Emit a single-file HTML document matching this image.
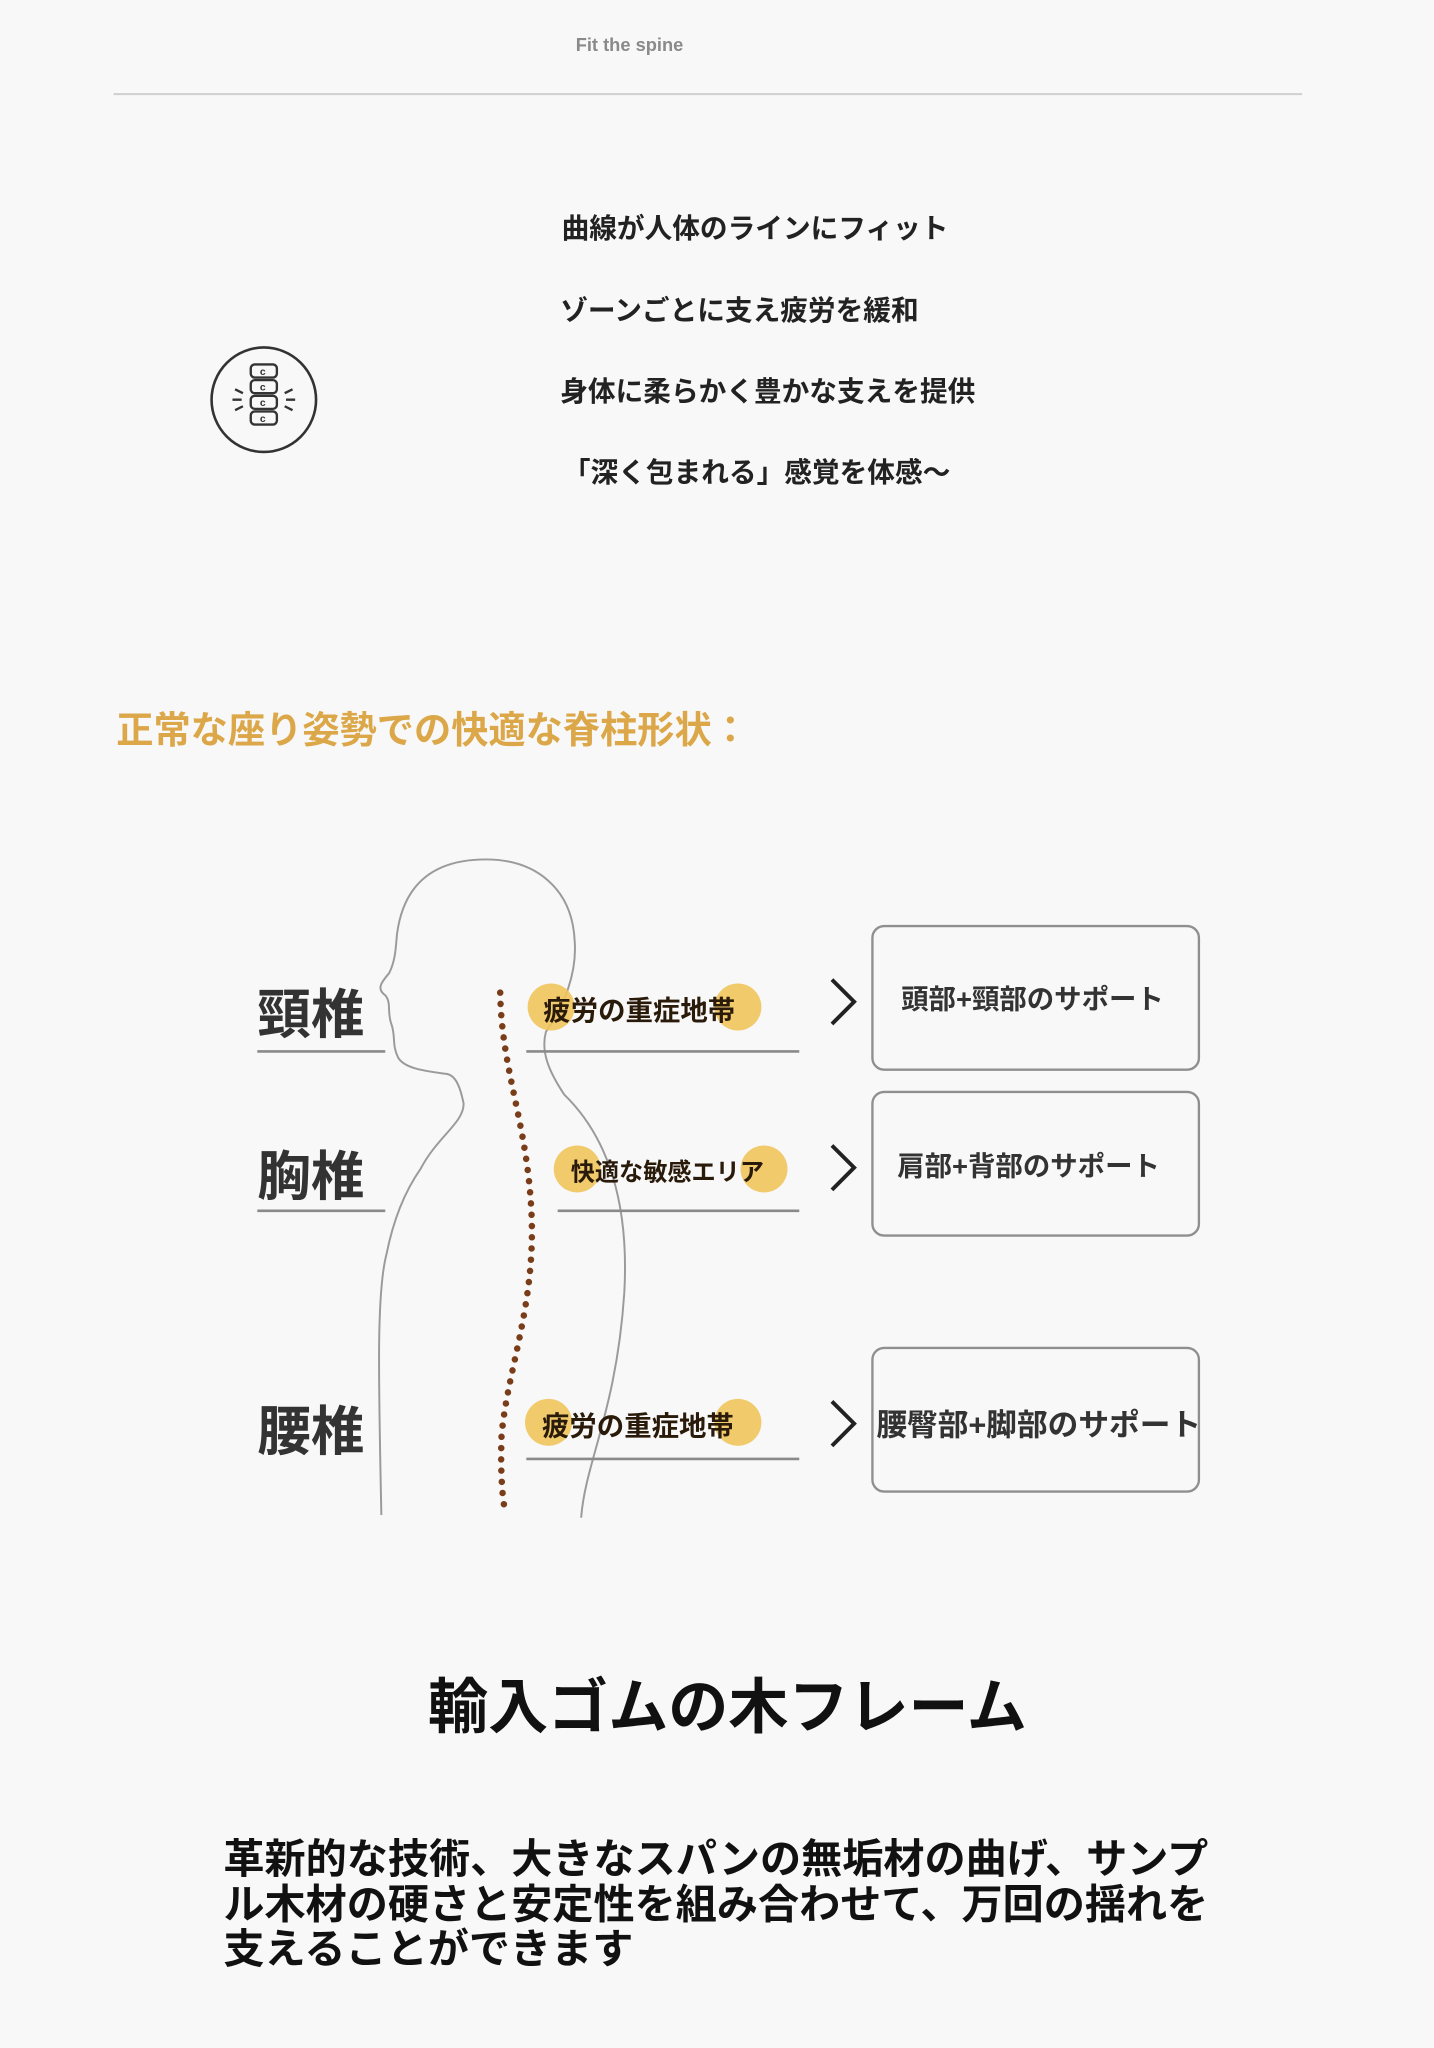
<!DOCTYPE html>
<html><head><meta charset="utf-8"><style>
html,body{margin:0;padding:0;background:#f8f8f8;}
svg{display:block;}
text{font-family:"Liberation Sans","Noto Sans CJK JP",sans-serif;font-weight:bold;}
</style></head><body>
<svg width="1434" height="2048" viewBox="0 0 1098 1568" xmlns="http://www.w3.org/2000/svg">
<rect width="1098" height="1568" fill="#f8f8f8"/>
<text x="482" y="39" font-size="14" fill="#8a8a8a" text-anchor="middle" font-weight="normal">Fit the spine</text>
<line x1="87" y1="72" x2="997" y2="72" stroke="#cfcfcf" stroke-width="1.5"/>

<circle cx="202" cy="306" r="40" fill="none" stroke="#333" stroke-width="2"/>
<g fill="none" stroke="#333" stroke-width="1.8">
<rect x="192" y="279" width="20" height="10" rx="3"/>
<rect x="192" y="291" width="20" height="10" rx="3"/>
<rect x="192" y="303" width="20" height="10" rx="3"/>
<rect x="192" y="315" width="20" height="10" rx="3"/>
<path d="M180 298 l6 3 M178 306 h7 M180 314 l6 -3 M224 298 l-6 3 M226 306 h-7 M224 314 l-6 -3"/>
</g>
<g font-size="8" fill="#333"><text x="199" y="287">c</text><text x="199" y="299">c</text><text x="199" y="311">c</text><text x="199" y="323">c</text></g>

<g font-size="21.2" fill="#222">
<text x="430" y="182">曲線が人体のラインにフィット</text>
<text x="429" y="245">ゾーンごとに支え疲労を緩和</text>
<text x="429" y="307">身体に柔らかく豊かな支えを提供</text>
<text x="431" y="369">「深く包まれる」感覚を体感～</text>
</g>

<text x="89" y="569" font-size="28.5" fill="#dba748">正常な座り姿勢での快適な脊柱形状：</text>

<path d="M292 1160 C290 1060 288 990 296 960 C303 925 315 905 322 895 C335 870 355 860 355 845 C352 830 348 822 340 822 C325 820 310 818 305 810 C300 800 303 795 300 785 C296 775 300 768 295 762 C288 757 292 752 298 745 C303 735 303 725 304 715 C310 670 340 658 372 658 C410 658 438 680 440 720 C442 745 432 770 418 790 C414 805 420 820 432 838 C465 870 482 920 478 990 C472 1080 448 1120 445 1162" fill="none" stroke="#9a9a9a" stroke-width="1.5"/>
<path d="M383 760 C384 820 404 860 407 930 C410 1000 388 1050 384 1100 C383 1130 385 1150 387 1158" fill="none" stroke="#7a3d1a" stroke-width="5" stroke-linecap="round" stroke-dasharray="0 8.6"/>

<g font-size="41" fill="#333">
<text x="197" y="791">頸椎</text>
<text x="197" y="915">胸椎</text>
<text x="197" y="1110">腰椎</text>
</g>
<g stroke="#8a8a8a" stroke-width="2">
<line x1="197" y1="805" x2="295" y2="805"/>
<line x1="197" y1="927" x2="295" y2="927"/>
<line x1="403" y1="805" x2="612" y2="805"/>
<line x1="427" y1="927" x2="612" y2="927"/>
<line x1="403" y1="1117" x2="612" y2="1117"/>
</g>
<g fill="#f0c45c" opacity="0.9">
<circle cx="422" cy="771" r="18"/><circle cx="565" cy="771" r="18"/>
<circle cx="442" cy="895" r="18"/><circle cx="585" cy="895" r="18"/>
<circle cx="420" cy="1089" r="18"/><circle cx="565" cy="1089" r="18"/>
</g>
<g font-size="21" fill="#2a1a0a">
<text x="416" y="781">疲労の重症地帯</text>
<text x="437" y="904" font-size="18.5">快適な敏感エリア</text>
<text x="415" y="1099">疲労の重症地帯</text>
</g>
<g fill="none" stroke="#222" stroke-width="3">
<path d="M637 750 L654 767 L637 784"/>
<path d="M637 877 L654 894 L637 911"/>
<path d="M637 1073 L654 1090 L637 1107"/>
</g>
<g fill="none" stroke="#8f8f8f" stroke-width="1.8">
<rect x="668" y="709" width="250" height="110" rx="9"/>
<rect x="668" y="836" width="250" height="110" rx="9"/>
<rect x="668" y="1032" width="250" height="110" rx="9"/>
</g>
<g font-size="21" fill="#333">
<text x="690" y="772">頭部+頸部のサポート</text>
<text x="687" y="900">肩部+背部のサポート</text>
<text x="671" y="1099" font-size="23.5">腰臀部+脚部のサポート</text>
</g>

<text x="557" y="1323" font-size="46" fill="#111" text-anchor="middle">輸入ゴムの木フレーム</text>
<g font-size="31.5" fill="#111">
<text x="171" y="1434">革新的な技術、大きなスパンの無垢材の曲げ、サンプ</text>
<text x="171" y="1469">ル木材の硬さと安定性を組み合わせて、万回の揺れを</text>
<text x="171" y="1503">支えることができます</text>
</g>
</svg>
</body></html>
